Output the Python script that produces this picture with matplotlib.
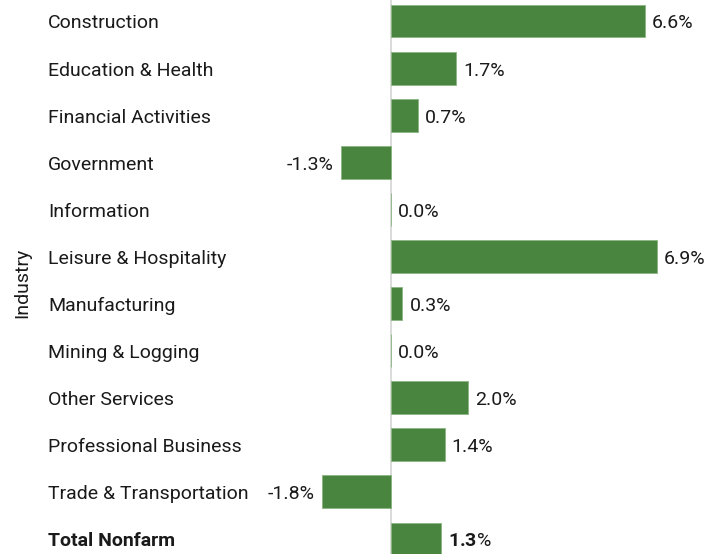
import matplotlib.pyplot as plt
from matplotlib.transforms import blended_transform_factory

industries = ["Construction", "Education & Health", "Financial Activities", "Government",
              "Information", "Leisure & Hospitality", "Manufacturing", "Mining & Logging",
              "Other Services", "Professional Business", "Trade & Transportation", "Total Nonfarm"]
changes = [6.6, 1.7, 0.7, -1.3, 0.0, 6.9, 0.3, 0.0, 2.0, 1.4, -1.8, 1.3]

plt.rcParams['font.family'] = ['Roboto', 'DejaVu Sans']
plt.rcParams['mathtext.fontset'] = 'custom'
plt.rcParams['mathtext.rm'] = 'Roboto'
plt.rcParams['mathtext.bf'] = 'Roboto:bold'
TXT = "#1a1a1a"
GREEN = "#4a8540"
FS = 14

fig = plt.figure(figsize=(7.25, 5.54), dpi=100)
ax = fig.add_axes([260 / 725, 0, 465 / 725, 1])

ypos = list(range(len(industries)))
ax.barh(ypos, changes, height=0.7, color=GREEN, edgecolor="#8ab582", linewidth=0.6, zorder=2)
ax.axvline(0, color="#d4d4d4", lw=1.2, zorder=1)

ax.set_xlim(-3.40, 8.675)
ax.set_ylim(11.318, -0.446)
ax.axis("off")

trans = blended_transform_factory(fig.transFigure, ax.transData)
for i, name in enumerate(industries):
    bold = name == "Total Nonfarm"
    ax.text(48 / 725, i + 0.01, name, transform=trans, ha="left", va="center_baseline",
            fontsize=FS, color=TXT, fontweight="bold" if bold else "normal")

for i, v in enumerate(changes):
    bold = industries[i] == "Total Nonfarm"
    label = f"$\\mathbf{{{v:.1f}}}$%" if bold else f"{v:.1f}%"
    if v < 0:
        ax.annotate(label, (v, i + 0.01), xytext=(-5, 0), textcoords="offset points",
                    ha="right", va="center_baseline", fontsize=FS, color=TXT)
    else:
        ax.annotate(label, (v, i + 0.01), xytext=(5, 0), textcoords="offset points",
                    ha="left", va="center_baseline", fontsize=FS, color=TXT)

fig.text(22 / 725, 1 - 283 / 554, "Industry", rotation=90, ha="center", va="center",
         fontsize=FS, color=TXT)

fig.savefig("out.png", dpi=100)
